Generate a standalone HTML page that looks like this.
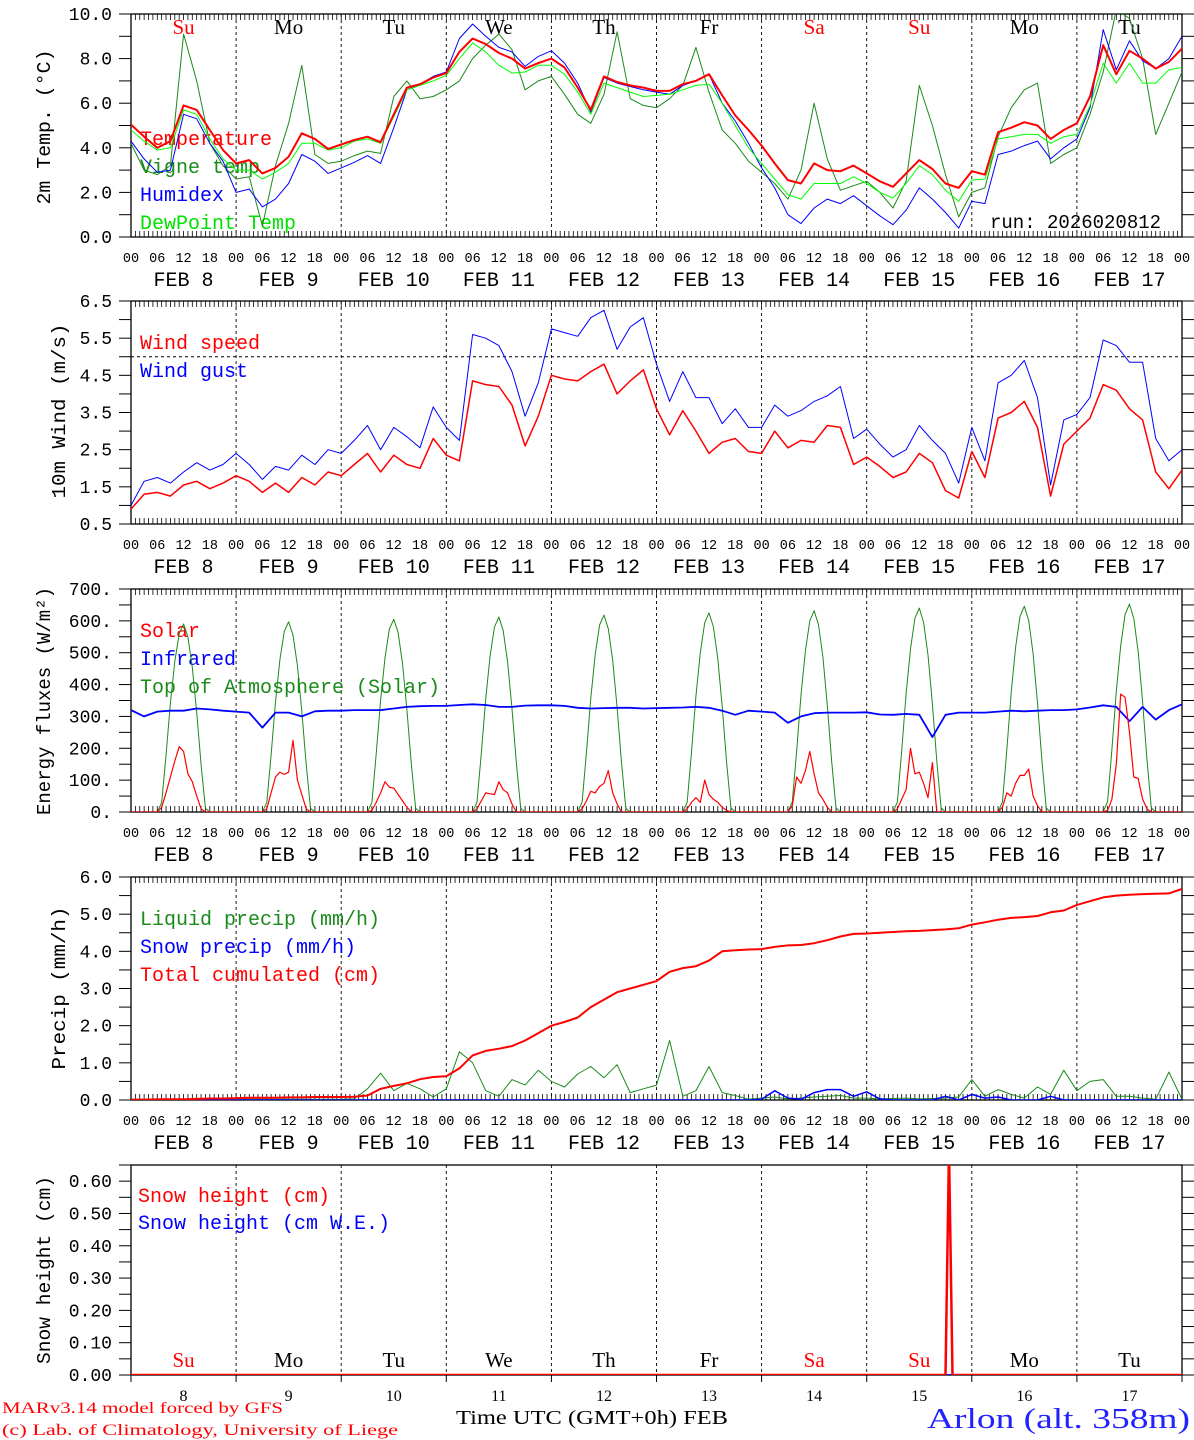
<!DOCTYPE html>
<html><head><meta charset="utf-8"><style>
html,body{margin:0;padding:0;background:#fff}
svg{display:block}
text{font-family:"Liberation Mono",monospace}
.s{font-family:"Liberation Serif",serif}
</style></head><body>
<svg id="chart" width="1194" height="1440" viewBox="0 0 1194 1440" xmlns="http://www.w3.org/2000/svg"></svg>
<script>
// ---------- DATA ----------
const tempC = [5.04,4.5,4.0,4.3,5.9,5.7,4.8,3.9,3.3,3.45,2.85,3.1,3.6,4.65,4.4,3.95,4.15,4.35,4.5,4.25,5.5,6.7,6.85,7.15,7.35,8.3,8.9,8.65,8.25,8.0,7.55,7.8,8.0,7.6,6.7,5.7,7.2,6.95,6.8,6.7,6.55,6.55,6.85,7.0,7.3,6.35,5.45,4.8,4.1,3.3,2.55,2.4,3.3,3.0,2.95,3.2,2.85,2.5,2.25,2.85,3.45,3.05,2.4,2.2,2.95,2.8,4.7,4.9,5.15,5.0,4.4,4.8,5.1,6.3,8.6,7.3,8.35,8.0,7.55,7.85,8.45];
const vigneC = [4.2,3.0,2.8,3.2,9.1,7.0,4.2,3.2,2.6,2.7,0.5,3.2,5.1,7.7,3.7,3.3,3.4,3.65,3.85,3.75,6.3,7.0,6.2,6.3,6.6,7.0,8.0,8.6,9.1,8.4,6.6,7.0,7.2,6.4,5.5,5.1,6.4,9.2,6.2,5.9,5.8,6.2,6.8,8.5,6.5,4.8,4.2,3.4,2.9,2.4,1.7,3.0,6.0,3.5,2.1,2.3,2.5,2.0,1.3,2.5,6.8,5.0,2.8,0.9,2.0,2.2,4.5,5.8,6.6,6.9,3.3,3.7,4.0,5.5,7.4,10.2,9.8,8.0,4.6,6.0,7.4];
const humidexC = [4.3,3.5,2.9,3.0,5.5,5.3,4.2,3.4,2.0,2.15,1.35,1.7,2.4,3.7,3.4,2.85,3.1,3.35,3.65,3.3,4.9,6.6,6.85,7.2,7.4,8.9,9.55,9.0,8.5,8.3,7.65,8.1,8.35,7.8,6.9,5.6,7.15,6.9,6.75,6.6,6.5,6.4,6.8,7.0,7.3,6.0,5.2,4.2,3.1,2.2,1.0,0.6,1.3,1.7,1.5,1.85,1.4,0.95,0.55,1.2,2.2,1.7,1.1,0.4,1.6,1.5,3.7,3.85,4.1,4.3,3.5,4.0,4.4,5.8,9.3,7.5,8.8,7.9,7.55,8.0,9.0];
const dewC = [4.8,4.3,3.9,4.0,5.7,5.5,4.4,3.5,3.0,3.0,2.6,2.9,3.3,4.2,4.2,3.9,4.0,4.3,4.4,4.2,5.4,6.6,6.8,7.0,7.25,8.0,8.7,8.3,7.7,7.35,7.4,7.7,7.7,7.3,6.5,5.5,6.9,6.7,6.5,6.3,6.35,6.4,6.6,6.8,6.85,6.0,5.0,4.0,3.3,2.6,1.9,1.7,2.4,2.4,2.4,2.7,2.4,2.0,1.75,2.4,3.2,2.8,2.1,1.6,2.55,2.6,4.4,4.5,4.6,4.6,4.2,4.5,4.6,5.9,7.8,6.9,7.8,6.9,6.9,7.5,7.6];
const windSpeed = [0.9,1.3,1.35,1.25,1.55,1.65,1.45,1.6,1.8,1.65,1.35,1.6,1.35,1.75,1.55,1.9,1.8,2.1,2.4,1.9,2.35,2.1,2.0,2.8,2.35,2.2,4.35,4.25,4.2,3.7,2.6,3.4,4.5,4.4,4.35,4.6,4.8,4.0,4.35,4.65,3.6,2.9,3.55,3.0,2.4,2.7,2.8,2.45,2.4,3.0,2.55,2.75,2.7,3.15,3.1,2.1,2.3,2.05,1.75,1.9,2.4,2.15,1.4,1.2,2.45,1.75,3.35,3.5,3.8,3.1,1.25,2.65,3.0,3.35,4.25,4.1,3.6,3.3,1.9,1.45,1.95];
const windGust = [1.0,1.65,1.75,1.6,1.9,2.15,1.95,2.1,2.4,2.1,1.7,2.05,1.95,2.35,2.1,2.5,2.4,2.75,3.15,2.5,3.1,2.85,2.55,3.65,3.1,2.75,5.6,5.5,5.3,4.6,3.4,4.3,5.75,5.65,5.55,6.05,6.25,5.2,5.8,6.05,4.8,3.8,4.6,3.9,3.9,3.2,3.6,3.1,3.1,3.7,3.4,3.55,3.8,3.95,4.2,2.8,3.05,2.65,2.3,2.5,3.15,2.75,2.4,1.6,3.1,2.2,4.3,4.5,4.9,3.9,1.55,3.3,3.45,3.9,5.45,5.3,4.85,4.85,2.8,2.2,2.5];
const infrared = [320,300,315,318,318,325,322,318,315,312,265,312,312,300,316,318,318,320,320,320,325,330,332,333,333,336,338,336,330,330,334,335,335,333,327,325,326,327,327,325,326,327,328,330,327,318,305,318,315,312,280,300,310,312,312,312,313,306,305,308,305,235,305,312,312,312,315,318,316,318,320,320,322,328,335,330,285,330,290,320,338];
// solar & top-of-atmosphere: per day values at hours 06..18
const solarDays = [
 [0,15,60,110,160,205,190,120,95,50,10,0,0],
 [0,10,60,110,125,118,125,225,100,55,10,0,0],
 [0,5,30,60,95,78,75,55,35,15,0,0,0],
 [0,10,35,60,57,55,95,70,60,25,0,0,0],
 [0,10,35,65,60,80,90,130,60,25,0,0,0],
 [0,10,30,45,30,100,55,40,30,15,5,0,0],
 [0,20,110,90,130,190,120,60,40,15,0,0,0],
 [0,10,40,70,200,120,125,90,45,155,0,0,0],
 [0,15,60,50,90,115,115,135,50,20,0,0,0],
 [0,5,40,150,370,360,250,110,105,40,10,0,0]];
const toaDays = [
 [0,30,177,342,472,560,590,549,454,313,148,12,0],
 [0,30,179,346,478,567,597,555,460,316,149,12,0],
 [0,30,182,351,484,575,605,563,466,321,151,12,0],
 [0,31,184,355,490,581,612,569,471,324,153,12,0],
 [0,31,185,358,494,587,618,575,476,328,155,12,0],
 [0,31,188,363,500,594,625,581,481,331,156,13,0],
 [0,32,190,367,506,600,632,588,487,335,158,13,0],
 [0,32,192,371,512,608,640,595,493,339,160,13,0],
 [0,32,194,375,517,614,646,601,497,342,162,13,0],
 [0,33,196,379,522,620,653,607,503,346,163,13,0]];
const liquidPrecip = [0.02,0.02,0.02,0.02,0.02,0.02,0.03,0.02,0.02,0.02,0.02,0.02,0.02,0.02,0.02,0.02,0.02,0.03,0.3,0.72,0.25,0.45,0.3,0.08,0.3,1.3,1.0,0.25,0.1,0.55,0.4,0.8,0.5,0.35,0.7,0.9,0.6,0.95,0.2,0.3,0.4,1.6,0.1,0.25,0.9,0.2,0.12,0.02,0.05,0.08,0.03,0.05,0.08,0.1,0.12,0.05,0.05,0.03,0.04,0.05,0.03,0.04,0.05,0.08,0.55,0.1,0.28,0.15,0.05,0.35,0.15,0.8,0.25,0.5,0.55,0.1,0.1,0.05,0.02,0.75,0.02];
const snowPrecip = [0,0,0,0,0,0,0,0,0,0,0,0,0,0,0,0,0,0,0,0,0,0,0,0,0,0,0,0,0,0,0,0,0,0,0,0,0,0,0,0,0,0,0,0,0,0,0,0,0.02,0.25,0.05,0.02,0.2,0.28,0.28,0.1,0.22,0.03,0,0,0,0,0.1,0,0.15,0.05,0.08,0,0,0,0.1,0,0,0,0,0,0,0,0,0,0];
const totalCum = [0.01,0.01,0.02,0.02,0.02,0.03,0.04,0.04,0.05,0.06,0.06,0.06,0.07,0.07,0.08,0.08,0.08,0.09,0.12,0.3,0.38,0.45,0.56,0.62,0.64,0.85,1.2,1.32,1.38,1.45,1.6,1.8,2.0,2.1,2.22,2.5,2.7,2.9,3.0,3.1,3.2,3.45,3.55,3.6,3.75,4.0,4.03,4.05,4.06,4.12,4.16,4.17,4.22,4.3,4.4,4.47,4.48,4.5,4.52,4.54,4.55,4.57,4.59,4.62,4.72,4.78,4.85,4.9,4.92,4.95,5.05,5.1,5.25,5.35,5.45,5.5,5.52,5.54,5.55,5.56,5.68];
const snowHours = [0,186,186.8,187.6,240];
const snowCm = [0,0,0.7,0,0];
const snowWE = [0,0,0,0,0];
const dayNames = ["Su","Mo","Tu","We","Th","Fr","Sa","Su","Mo","Tu"];
const dayNums = ["8","9","10","11","12","13","14","15","16","17"];
const hourLabels = ["00","06","12","18"];

// ---------- LAYOUT ----------
const NS="http://www.w3.org/2000/svg";
const svg=document.getElementById('chart');
const X0=131, X1=1182;
const sx=h=>X0+h*(X1-X0)/240;
const hours3=[]; for(let h=0;h<=240;h+=3) hours3.push(h);
function el(tag,attrs,parent){const e=document.createElementNS(NS,tag);for(const k in attrs)e.setAttribute(k,attrs[k]);(parent||svg).appendChild(e);return e;}
function txt(s,attrs,parent){const e=el('text',attrs,parent);e.textContent=s;return e;}
const panels={
 temp:{top:14,bot:237,min:0,max:10},
 wind:{top:301,bot:524,min:0.5,max:6.5},
 energy:{top:589,bot:812,min:0,max:700},
 precip:{top:877,bot:1100,min:0,max:6},
 snow:{top:1165,bot:1375,min:0,max:0.65}
};
function sy(p,v){return p.bot-(v-p.min)*(p.bot-p.top)/(p.max-p.min);}
let clipN=0;
function frame(p,name,hourTicks){
 const g=el('g',{});
 
 
 el('rect',{x:X0,y:p.top,width:X1-X0,height:p.bot-p.top,fill:'none',stroke:'#000','stroke-width':1.3},g);
 for(let d=1;d<10;d++){const x=sx(d*24);el('line',{x1:x,x2:x,y1:p.top,y2:p.bot,stroke:'#000','stroke-width':0.9,'stroke-dasharray':'3,3'},g);}
 if(hourTicks){for(let h=0;h<=240;h++){const x=sx(h);el('line',{x1:x,x2:x,y1:p.top,y2:p.top+6,stroke:'#000','stroke-width':0.8},g);el('line',{x1:x,x2:x,y1:p.bot,y2:p.bot-6,stroke:'#000','stroke-width':0.8},g);}}
 else{for(let d=0;d<=10;d++){const x=sx(d*24);el('line',{x1:x,x2:x,y1:p.bot,y2:p.bot+7,stroke:'#000','stroke-width':1},g);}}
 const id='c'+(clipN++);
 const cp=el('clipPath',{id:id});el('rect',{x:X0,y:p.top,width:X1-X0,height:p.bot-p.top},cp);
 p.clip=id;
 return g;
}
function yTicks(p,major,minor,fmt,name){
 const g=el('g',{});
 
 
 for(let v=p.min;v<=p.max+1e-9;v+=minor){const y=sy(p,v);el('line',{x1:119,x2:X0,y1:y,y2:y,stroke:'#000','stroke-width':1},g);el('line',{x1:X1,x2:1194,y1:y,y2:y,stroke:'#000','stroke-width':1},g);}
 major.forEach(v=>{txt(fmt(v),{x:112,y:sy(p,v)+6,'text-anchor':'end','font-size':18,fill:'#000'},g);});
}
function xLabels(p,name){
 const g=el('g',{});
 
 
 for(let h=0;h<=240;h+=6){txt(hourLabels[(h/6)%4],{x:sx(h),y:p.bot+25,'text-anchor':'middle','font-size':13.5,fill:'#000'},g);}
 for(let d=0;d<10;d++){txt('FEB '+(dayNums[d].length<2?' ':'')+dayNums[d],{x:sx(d*24+12),y:p.bot+49,'text-anchor':'middle','font-size':20,fill:'#000','xml:space':'preserve'},g);}
}
function series(p,hrs,vals,color,w,name){
 let d='';
 hrs.forEach((h,i)=>{d+=(i?'L':'M')+sx(h).toFixed(1)+','+sy(p,vals[i]).toFixed(1);});
 const path=el('path',{d:d,fill:'none',stroke:color,'stroke-width':w,'stroke-linejoin':'round','clip-path':'url(#'+p.clip+')'});
 
 
 return path;
}
function dailySeries(days){const h=[0],v=[0];days.forEach((arr,d)=>arr.forEach((val,i)=>{h.push(d*24+6+i);v.push(val);}));h.push(240);v.push(0);return {h:h,v:v};}
function legend(items,x,y0,step){
 items.forEach((it,i)=>{const t=txt(it[0],{x:x,y:y0+i*step,'font-size':20,fill:it[1]});
  
  });
}
function yTitle(s,cx,cy,len,name){
 const t=txt(s,{x:cx,y:cy,'text-anchor':'middle','dominant-baseline':'central','font-size':19,fill:'#000',transform:'rotate(-90 '+cx+' '+cy+')',textLength:len,lengthAdjust:'spacingAndGlyphs'});
 
 
}

// ---------- PANEL 1: temperature ----------
let P=panels.temp;
frame(P,'temp',true);
yTicks(P,[0,2,4,6,8,10],1,v=>v.toFixed(1),'temp');
xLabels(P,'temp');
yTitle('2m Temp. (°C)',45,127,155,'temp-y-axis-title');
dayNames.forEach((n,d)=>{const t=txt(n,{x:sx(d*24+12),y:34,'text-anchor':'middle','font-size':21,fill:(n==='Su'||n==='Sa')?'#ff0000':'#000',class:'s'});
 
 });
legend([['Temperature','#ff0000','legend-temperature'],['Vigne temp','#1a8a1a','legend-vigne-temp'],['Humidex','#0000ff','legend-humidex'],['DewPoint Temp','#00e000','legend-dewpoint']],140,145,28);
series(P,hours3,vigneC,'#1a8a1a',1,'vigne-temp-line');
series(P,hours3,humidexC,'#0000ff',1,'humidex-line');
series(P,hours3,dewC,'#00ff00',1,'dewpoint-line');
series(P,hours3,tempC,'#ff0000',2,'temperature-line');
const run=txt('run: 2026020812',{x:990,y:228,'font-size':19,fill:'#000'});



// ---------- PANEL 2: wind ----------
P=panels.wind;
frame(P,'wind',true);
yTicks(P,[0.5,1.5,2.5,3.5,4.5,5.5,6.5],0.5,v=>v.toFixed(1),'wind');
xLabels(P,'wind');
yTitle('10m Wind (m/s)',60,411,175,'wind-y-axis-title');
const thr=el('line',{x1:X0,x2:X1,y1:sy(P,5),y2:sy(P,5),stroke:'#000','stroke-width':0.9,'stroke-dasharray':'3,3'});


legend([['Wind speed','#ff0000','legend-wind-speed'],['Wind gust','#0000ff','legend-wind-gust']],140,349,28);
series(P,hours3,windGust,'#0000ff',1,'wind-gust-line');
series(P,hours3,windSpeed,'#ff0000',1.5,'wind-speed-line');

// ---------- PANEL 3: energy ----------
P=panels.energy;
frame(P,'energy',true);
yTicks(P,[0,100,200,300,400,500,600,700],50,v=>v+'.','energy');
xLabels(P,'energy');
yTitle('Energy fluxes (W/m²)',45,701,228,'energy-y-axis-title');
legend([['Solar','#ff0000','legend-solar'],['Infrared','#0000ff','legend-infrared'],['Top of Atmosphere (Solar)','#1a8a1a','legend-toa']],140,637,28);
let s=dailySeries(toaDays);
series(P,s.h,s.v,'#1a8a1a',1,'toa-solar-line');
series(P,hours3,infrared,'#0000ff',1.8,'infrared-line');
s=dailySeries(solarDays);
series(P,s.h,s.v,'#ff0000',1.2,'solar-line');

// ---------- PANEL 4: precip ----------
P=panels.precip;
frame(P,'precip',true);
yTicks(P,[0,1,2,3,4,5,6],0.5,v=>v.toFixed(1),'precip');
xLabels(P,'precip');
yTitle('Precip (mm/h)',60,988,163,'precip-y-axis-title');
legend([['Liquid precip (mm/h)','#1a8a1a','legend-liquid'],['Snow precip (mm/h)','#0000ff','legend-snow-precip'],['Total cumulated (cm)','#ff0000','legend-total']],140,925,28);
series(P,hours3,liquidPrecip,'#1a8a1a',1,'liquid-precip-line');
series(P,hours3,snowPrecip,'#0000ff',1.5,'snow-precip-line');
series(P,hours3,totalCum,'#ff0000',2,'total-cumulated-line');

// ---------- PANEL 5: snow ----------
P=panels.snow;
frame(P,'snow',false);
yTicks(P,[0,0.1,0.2,0.3,0.4,0.5,0.6],0.05,v=>v.toFixed(2),'snow');
yTitle('Snow height (cm)',45,1270,188,'snow-y-axis-title');
legend([['Snow height (cm)','#ff0000','legend-snow-height'],['Snow height (cm W.E.)','#0000ff','legend-snow-we']],138,1202,27);
dayNames.forEach((n,d)=>{const t=txt(n,{x:sx(d*24+12),y:1367,'text-anchor':'middle','font-size':21,fill:(n==='Su'||n==='Sa')?'#ff0000':'#000',class:'s'});
 
 
 const u=txt(dayNums[d],{x:sx(d*24+12),y:1401,'text-anchor':'middle','font-size':16,fill:'#000',class:'s'});
 
 });
series(P,snowHours,snowWE,'#0000ff',2,'snow-we-line');
series(P,snowHours,snowCm,'#ff0000',2.5,'snow-height-line');

// ---------- FOOTER ----------
let f=txt('MARv3.14 model forced by GFS',{x:2,y:1413,'font-size':16,fill:'#ff0000',class:'s',textLength:281,lengthAdjust:'spacingAndGlyphs'});


f=txt('(c) Lab. of Climatology, University of Liege',{x:2,y:1435,'font-size':16,fill:'#ff0000',class:'s',textLength:396,lengthAdjust:'spacingAndGlyphs'});


f=txt('Time UTC (GMT+0h) FEB',{x:456,y:1424,'font-size':20,fill:'#000',class:'s',textLength:272,lengthAdjust:'spacingAndGlyphs'});


f=txt('Arlon (alt. 358m)',{x:927,y:1428,'font-size':28,fill:'#2222ff',class:'s',textLength:263,lengthAdjust:'spacingAndGlyphs'});


</script>
</body></html>
